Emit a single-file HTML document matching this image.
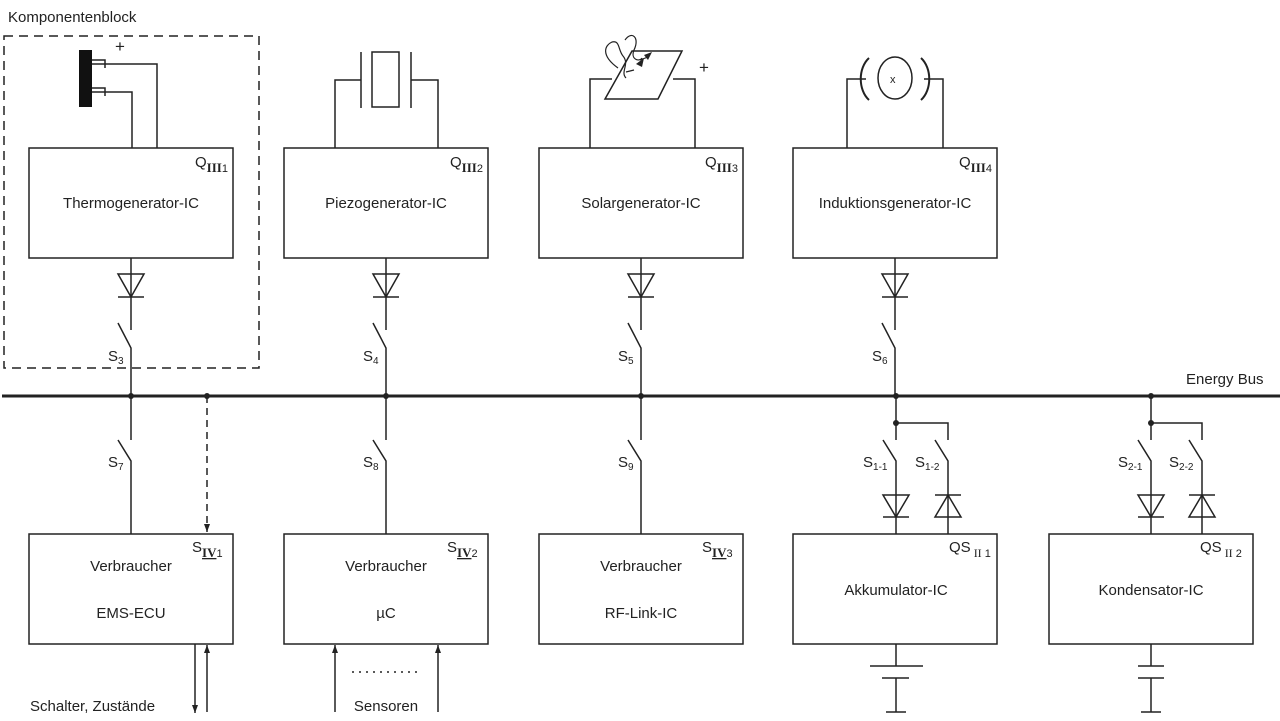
<!DOCTYPE html>
<html><head><meta charset="utf-8"><style>
html,body{margin:0;padding:0;background:#fff;}
svg{display:block;}
text{font-family:"Liberation Sans",sans-serif;fill:#222;}
</style></head><body>
<svg width="1280" height="721" viewBox="0 0 1280 721" xmlns="http://www.w3.org/2000/svg">
<defs>
<marker id="ah" markerWidth="9" markerHeight="8" refX="8" refY="4" orient="auto" markerUnits="userSpaceOnUse"><path d="M0,1 L8,4 L0,7 Z" fill="#222"/></marker>
</defs>
<g stroke="#222" stroke-width="1.5" fill="none">
<rect x="4" y="36" width="255" height="332" stroke-dasharray="9,6"/>
<line x1="2" y1="396" x2="1280" y2="396" stroke-width="3"/>
<rect x="29" y="148" width="204" height="110"/>
<rect x="284" y="148" width="204" height="110"/>
<rect x="539" y="148" width="204" height="110"/>
<rect x="793" y="148" width="204" height="110"/>
<rect x="29" y="534" width="204" height="110"/>
<rect x="284" y="534" width="204" height="110"/>
<rect x="539" y="534" width="204" height="110"/>
<rect x="793" y="534" width="204" height="110"/>
<rect x="1049" y="534" width="204" height="110"/>
</g>
<g stroke="#222" stroke-width="1.5" fill="none">
<path d="M131,258V330 M118,323L131,348V396"/><path d="M118,274H144L131,297Z M118,297H144"/>
<path d="M386,258V330 M373,323L386,348V396"/><path d="M373,274H399L386,297Z M373,297H399"/>
<path d="M641,258V330 M628,323L641,348V396"/><path d="M628,274H654L641,297Z M628,297H654"/>
<path d="M895,258V330 M882,323L895,348V396"/><path d="M882,274H908L895,297Z M882,297H908"/>
<path d="M131,396V440 M118,440L131,461V534"/>
<path d="M386,396V440 M373,440L386,461V534"/>
<path d="M641,396V440 M628,440L641,461V534"/>
<path d="M896,396V440 M896,423H948V440 M883,440L896,461V534 M935,440L948,461V534"/>
<path d="M883,495H909L896,517Z M883,517H909"/>
<path d="M935,517H961L948,495Z M935,495H961"/>
<path d="M1151,396V440 M1151,423H1202V440 M1138,440L1151,461V534 M1189,440L1202,461V534"/>
<path d="M1138,495H1164L1151,517Z M1138,517H1164"/>
<path d="M1189,517H1215L1202,495Z M1189,495H1215"/>
<path d="M896,644V666 M870,666H923 M882,678H909 M896,678V712 M886,712H906"/>
<path d="M1151,644V666 M1138,666H1164 M1138,678H1164 M1151,678V712 M1141,712H1161"/>
<line x1="207" y1="396" x2="207" y2="532" stroke-dasharray="7,5" marker-end="url(#ah)"/>
<line x1="195" y1="644" x2="195" y2="713" marker-end="url(#ah)"/>
<line x1="207" y1="712" x2="207" y2="645" marker-end="url(#ah)"/>
<line x1="335" y1="712" x2="335" y2="645" marker-end="url(#ah)"/>
<line x1="438" y1="712" x2="438" y2="645" marker-end="url(#ah)"/>
<line x1="352" y1="672" x2="420" y2="672" stroke-dasharray="2,5"/>
<path d="M92,64H157V148 M92,92H132V148"/>
<path d="M92,60H105V68 M92,88H105V96"/>
<path d="M335,148V80H361 M438,148V80H411 M361,52V108 M411,52V108"/>
<rect x="372" y="52" width="27" height="55"/>
<path d="M590,148V79H612 M695,148V79H673"/>
<path d="M632,51H682L658,99H605Z" fill="#fff"/>
<path d="M618,68C600,55 605,45 612,42 C620,40 618,50 623,56 C630,64 620,72 626,78" stroke-width="1.2"/>
<path d="M625,40C632,30 640,38 634,50 C630,60 640,62 642,58" stroke-width="1.2"/>
<path d="M626,72L634,70 M640,60L648,57" stroke-width="1.2"/>
<path d="M847,148V79H866 M943,148V79H924"/>
<ellipse cx="895" cy="78" rx="17" ry="21"/>
<path d="M869,58C858,68 858,90 869,100 M921,58C932,68 932,90 921,100" stroke-width="2"/>
</g>
<rect x="79" y="50" width="13" height="57" fill="#111"/>
<polygon points="636,64 644,58 642,67" fill="#222"/>
<polygon points="644,55 652,52 648,60" fill="#222"/>
<g fill="#222">
<circle cx="131" cy="396" r="3"/><circle cx="207" cy="396" r="3"/><circle cx="386" cy="396" r="3"/>
<circle cx="641" cy="396" r="3"/><circle cx="896" cy="396" r="3"/><circle cx="1151" cy="396" r="3"/>
<circle cx="896" cy="423" r="3"/><circle cx="1151" cy="423" r="3"/>
</g>
<g font-size="15">
<text x="8" y="22">Komponentenblock</text>
<text x="115" y="52" font-size="17">+</text>
<text x="699" y="73" font-size="17">+</text>
<text x="890" y="83" font-size="11">x</text>
<text x="1186" y="384">Energy Bus</text>
<text x="131" y="208" text-anchor="middle">Thermogenerator-IC</text>
<text x="386" y="208" text-anchor="middle">Piezogenerator-IC</text>
<text x="641" y="208" text-anchor="middle">Solargenerator-IC</text>
<text x="895" y="208" text-anchor="middle">Induktionsgenerator-IC</text>
<text x="131" y="571" text-anchor="middle">Verbraucher</text>
<text x="131" y="618" text-anchor="middle">EMS-ECU</text>
<text x="386" y="571" text-anchor="middle">Verbraucher</text>
<text x="386" y="618" text-anchor="middle">µC</text>
<text x="641" y="571" text-anchor="middle">Verbraucher</text>
<text x="641" y="618" text-anchor="middle">RF-Link-IC</text>
<text x="896" y="595" text-anchor="middle">Akkumulator-IC</text>
<text x="1151" y="595" text-anchor="middle">Kondensator-IC</text>
<text x="30" y="711">Schalter, Zustände</text>
<text x="386" y="711" text-anchor="middle">Sensoren</text>
<text x="195" y="167">Q<tspan font-family="Liberation Serif" font-weight="bold" font-size="13" dy="5">III</tspan><tspan font-size="11">1</tspan></text>
<text x="450" y="167">Q<tspan font-family="Liberation Serif" font-weight="bold" font-size="13" dy="5">III</tspan><tspan font-size="11">2</tspan></text>
<text x="705" y="167">Q<tspan font-family="Liberation Serif" font-weight="bold" font-size="13" dy="5">III</tspan><tspan font-size="11">3</tspan></text>
<text x="959" y="167">Q<tspan font-family="Liberation Serif" font-weight="bold" font-size="13" dy="5">III</tspan><tspan font-size="11">4</tspan></text>
<text x="192" y="552">S<tspan font-family="Liberation Serif" font-weight="bold" font-size="13" dy="5" text-decoration="underline">IV</tspan><tspan font-size="11">1</tspan></text>
<text x="447" y="552">S<tspan font-family="Liberation Serif" font-weight="bold" font-size="13" dy="5" text-decoration="underline">IV</tspan><tspan font-size="11">2</tspan></text>
<text x="702" y="552">S<tspan font-family="Liberation Serif" font-weight="bold" font-size="13" dy="5" text-decoration="underline">IV</tspan><tspan font-size="11">3</tspan></text>
<text x="949" y="552">QS<tspan font-family="Liberation Serif" font-size="12" dy="5"> II</tspan><tspan font-size="11"> 1</tspan></text>
<text x="1200" y="552">QS<tspan font-family="Liberation Serif" font-size="12" dy="5"> II</tspan><tspan font-size="11"> 2</tspan></text>
<text x="108" y="361">S<tspan font-size="10" dy="3">3</tspan></text>
<text x="363" y="361">S<tspan font-size="10" dy="3">4</tspan></text>
<text x="618" y="361">S<tspan font-size="10" dy="3">5</tspan></text>
<text x="872" y="361">S<tspan font-size="10" dy="3">6</tspan></text>
<text x="108" y="467">S<tspan font-size="10" dy="3">7</tspan></text>
<text x="363" y="467">S<tspan font-size="10" dy="3">8</tspan></text>
<text x="618" y="467">S<tspan font-size="10" dy="3">9</tspan></text>
<text x="863" y="467">S<tspan font-size="10" dy="3">1-1</tspan></text>
<text x="915" y="467">S<tspan font-size="10" dy="3">1-2</tspan></text>
<text x="1118" y="467">S<tspan font-size="10" dy="3">2-1</tspan></text>
<text x="1169" y="467">S<tspan font-size="10" dy="3">2-2</tspan></text>
</g>
</svg>
</body></html>
